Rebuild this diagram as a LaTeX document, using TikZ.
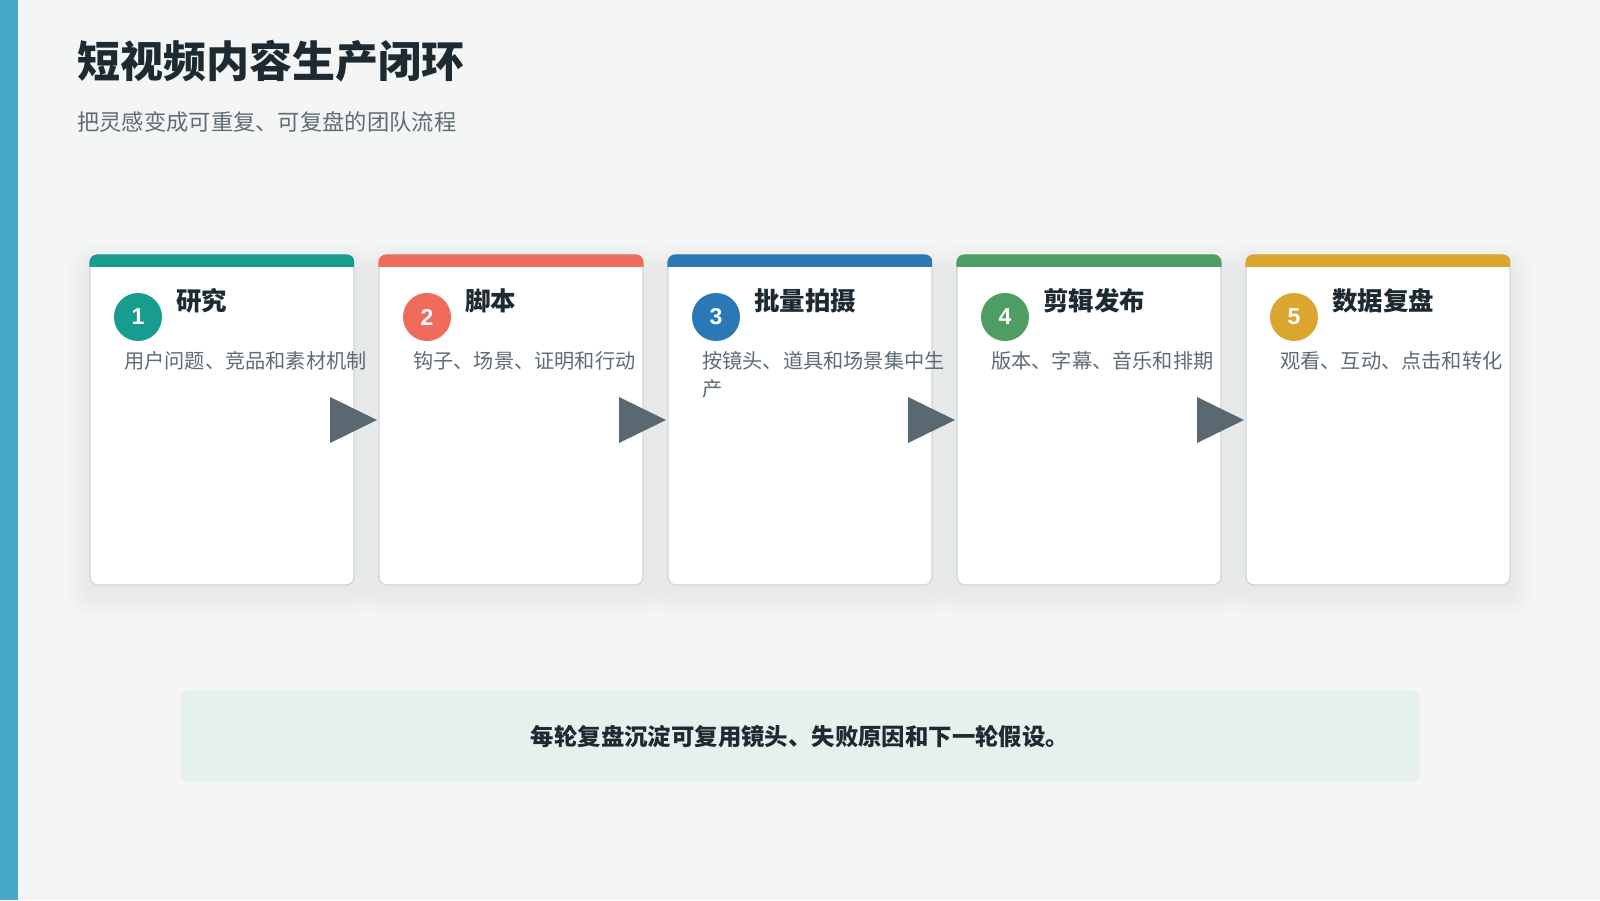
\documentclass[tikz,border=0pt]{standalone}
\usepackage{fontspec}
\setmainfont{Noto Sans CJK SC}
\newfontfamily\digitfont{Liberation Sans}
\usetikzlibrary{positioning, calc, backgrounds}

\definecolor{pagebg}{HTML}{F4F6F5}
\definecolor{sidebar}{HTML}{46A9C9}
\definecolor{inkdark}{HTML}{1E2A31}
\definecolor{inkgray}{HTML}{5E6C74}
\definecolor{cardline}{HTML}{CCD5D9}
\definecolor{flowgray}{HTML}{5A6971}
\definecolor{notebg}{HTML}{E6F0EC}
\definecolor{stepteal}{HTML}{169D8F}
\definecolor{stepred}{HTML}{EF6B5B}
\definecolor{stepblue}{HTML}{2A78B6}
\definecolor{stepgreen}{HTML}{4E9E63}
\definecolor{stepgold}{HTML}{DBA62F}

\begin{document}
\begin{tikzpicture}[
    x=1pt, y=-1pt,
    card/.style     = {rectangle, draw=cardline, line width=1.2pt, fill=white,
                       rounded corners=8pt, minimum width=264pt, minimum height=330pt,
                       inner sep=0pt, outer sep=0pt},
    badge/.style    = {circle, minimum size=48pt, inner sep=0pt, text=white,
                       font=\digitfont\fontsize{23}{23}\selectfont\bfseries},
    stephead/.style = {anchor=west, inner sep=0pt, text=inkdark,
                       font=\fontsize{25.5}{30}\selectfont\bfseries},
    stepdesc/.style = {anchor=north west, inner sep=0pt, text=inkgray, align=left,
                       font=\fontsize{20.2}{28}\selectfont},
    note/.style     = {rectangle, fill=notebg, rounded corners=8pt,
                       minimum width=1239pt, minimum height=92pt, inner sep=0pt,
                       text=inkdark, font=\fontsize{23.4}{28}\selectfont\bfseries},
    flowtri/.style  = {fill=flowgray},
    softshade/.style = {fill=black, opacity=0.008}
]

%% -- Page ----------------------------------------------------
\begin{scope}[on background layer]
  \fill[pagebg] (0,0) rectangle (1600,900);
\end{scope}
\useasboundingbox (0,0) rectangle (1600,900);
\fill[sidebar] (0,0) rectangle (18,900);

%% -- Title ---------------------------------------------------
\node[anchor=west, inner sep=0pt, text=inkdark,
      font=\fontsize{43}{50}\selectfont\bfseries] (title) at (77,61) {短视频内容生产闭环};
\node[anchor=west, inner sep=0pt, text=inkgray,
      font=\fontsize{22.3}{26}\selectfont] (subtitle) at (77,122) {把灵感变成可重复、可复盘的团队流程};

%% -- Step cards ----------------------------------------------
\node[card] (c1) at (222,420) {};
\node[card, right=25pt of c1] (c2) {};
\node[card, right=25pt of c2] (c3) {};
\node[card, right=25pt of c3] (c4) {};
\node[card, right=25pt of c4] (c5) {};

% soft shadows behind the cards
\begin{scope}[on background layer]
  \foreach \c in {c1, c2, c3, c4, c5} {
    \foreach \s in {3, 7, 11, 15, 19, 23} {
      \fill[softshade, rounded corners=8pt+\s pt]
        ($(\c.south west)+(-\s,\s+10)$) rectangle ($(\c.north east)+(\s,-\s+10)$);
    }
  }
\end{scope}

\foreach \c/\col in {c1/stepteal, c2/stepred, c3/stepblue, c4/stepgreen, c5/stepgold} {
  \begin{scope}
    \clip[rounded corners=8pt] ($(\c.south west)+(-0.6,0.6)$) rectangle ($(\c.north east)+(0.6,-0.6)$);
    \fill[\col] ($(\c.north west)+(-1,-1)$) rectangle ($(\c.north east)+(1,12)$);
  \end{scope}
}

%% -- Card contents -------------------------------------------
\node[badge, fill=stepteal]  (b1) at ($(c1.north west)+(48,62)$) {1};
\node[stephead] (h1) at ($(c1.north west)+(86,46)$) {研究};
\node[stepdesc] (d1) at ($(c1.north west)+(34,96)$) {用户问题、竞品和素材机制};

\node[badge, fill=stepred]   (b2) at ($(c2.north west)+(48,62)$) {2};
\node[stephead] (h2) at ($(c2.north west)+(86,46)$) {脚本};
\node[stepdesc] (d2) at ($(c2.north west)+(34,96)$) {钩子、场景、证明和行动};

\node[badge, fill=stepblue]  (b3) at ($(c3.north west)+(48,62)$) {3};
\node[stephead] (h3) at ($(c3.north west)+(86,46)$) {批量拍摄};
\node[stepdesc] (d3) at ($(c3.north west)+(34,96)$) {按镜头、道具和场景集中生\\产};

\node[badge, fill=stepgreen] (b4) at ($(c4.north west)+(48,62)$) {4};
\node[stephead] (h4) at ($(c4.north west)+(86,46)$) {剪辑发布};
\node[stepdesc] (d4) at ($(c4.north west)+(34,96)$) {版本、字幕、音乐和排期};

\node[badge, fill=stepgold]  (b5) at ($(c5.north west)+(48,62)$) {5};
\node[stephead] (h5) at ($(c5.north west)+(86,46)$) {数据复盘};
\node[stepdesc] (d5) at ($(c5.north west)+(34,96)$) {观看、互动、点击和转化};

%% -- Flow arrows ---------------------------------------------
\foreach \c in {c1, c2, c3, c4} {
  \fill[flowtri] ($(\c.east)+(-24,-23)$) -- ($(\c.east)+(23,0)$) -- ($(\c.east)+(-24,23)$) -- cycle;
}

%% -- Summary note --------------------------------------------
\node[note, below=105pt of c3] (summary) {每轮复盘沉淀可复用镜头、失败原因和下一轮假设。};

\end{tikzpicture}
\end{document}
